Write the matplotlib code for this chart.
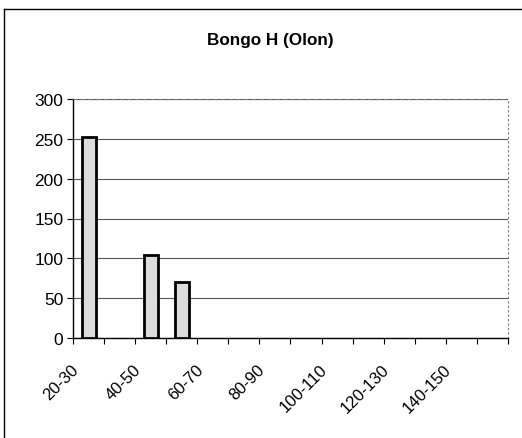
import matplotlib.pyplot as plt
import matplotlib.transforms as mtransforms
import numpy as np

plt.rcParams['font.family'] = ['Liberation Sans', 'DejaVu Sans']

# age classes (cm) and counts
categories = ['20-30', '30-40', '40-50', '50-60', '60-70', '70-80', '80-90',
              '90-100', '100-110', '110-120', '120-130', '130-140', '140-150', '150-160']
counts = [252, 0, 104, 70, 0, 0, 0, 0, 0, 0, 0, 0, 0, 0]
yticks = [0, 50, 100, 150, 200, 250, 300]

fig = plt.figure(figsize=(5.22, 4.39), dpi=100)
fig.patch.set_facecolor('white')
ax = fig.add_axes([0.140, 0.228, 0.833, 0.544])

x = np.arange(len(categories))
vals = np.array(counts)
shown = vals > 0
ax.bar(x[shown], vals[shown], width=0.45, color='#dcdcdc', edgecolor='black', linewidth=2, zorder=3)

ax.set_xlim(-0.5, len(categories) - 0.5)
ax.set_ylim(0, 300)
ax.set_yticks(yticks)
ax.set_yticklabels([str(v) for v in yticks], fontsize=12.5)
ax.yaxis.grid(True, color='#555555', linewidth=0.8)
ax.set_axisbelow(True)

# category ticks sit between bars, labels on every other class
ax.set_xticks(np.arange(len(categories) + 1) - 0.5)
ax.set_xticklabels([])
ax.set_xticks(x[::2], minor=True)
ax.set_xticklabels(categories[::2], minor=True, rotation=45, ha='right', fontsize=12)
ax.tick_params(axis='x', which='minor', length=0, pad=17)
ax.tick_params(axis='x', which='major', length=4, direction='out')
ax.tick_params(axis='y', length=4, direction='out', pad=3)
shift = mtransforms.ScaledTranslation(-7 / 100, 0, fig.dpi_scale_trans)
for lbl in ax.get_xticklabels(minor=True):
    lbl.set_transform(lbl.get_transform() + shift)

ax.spines['top'].set_linestyle((0, (3, 4)))
ax.spines['top'].set_color('#777777')
ax.spines['top'].set_linewidth(0.8)
ax.spines['right'].set_linestyle((0, (1, 3)))
ax.spines['right'].set_color('#777777')
ax.spines['right'].set_linewidth(0.8)
ax.spines['left'].set_linewidth(1)
ax.spines['bottom'].set_linewidth(1)

fig.text(0.517, 0.907, 'Bongo H (Olon)', ha='center', va='center', fontsize=12.3, fontweight='bold')

# chart frame (left and top edges)
fig.add_artist(plt.Line2D([0.008, 0.008], [0.0, 0.977], color='black', linewidth=1))
fig.add_artist(plt.Line2D([0.008, 1.0], [0.977, 0.977], color='black', linewidth=1))

plt.savefig('out.png', dpi=100)
